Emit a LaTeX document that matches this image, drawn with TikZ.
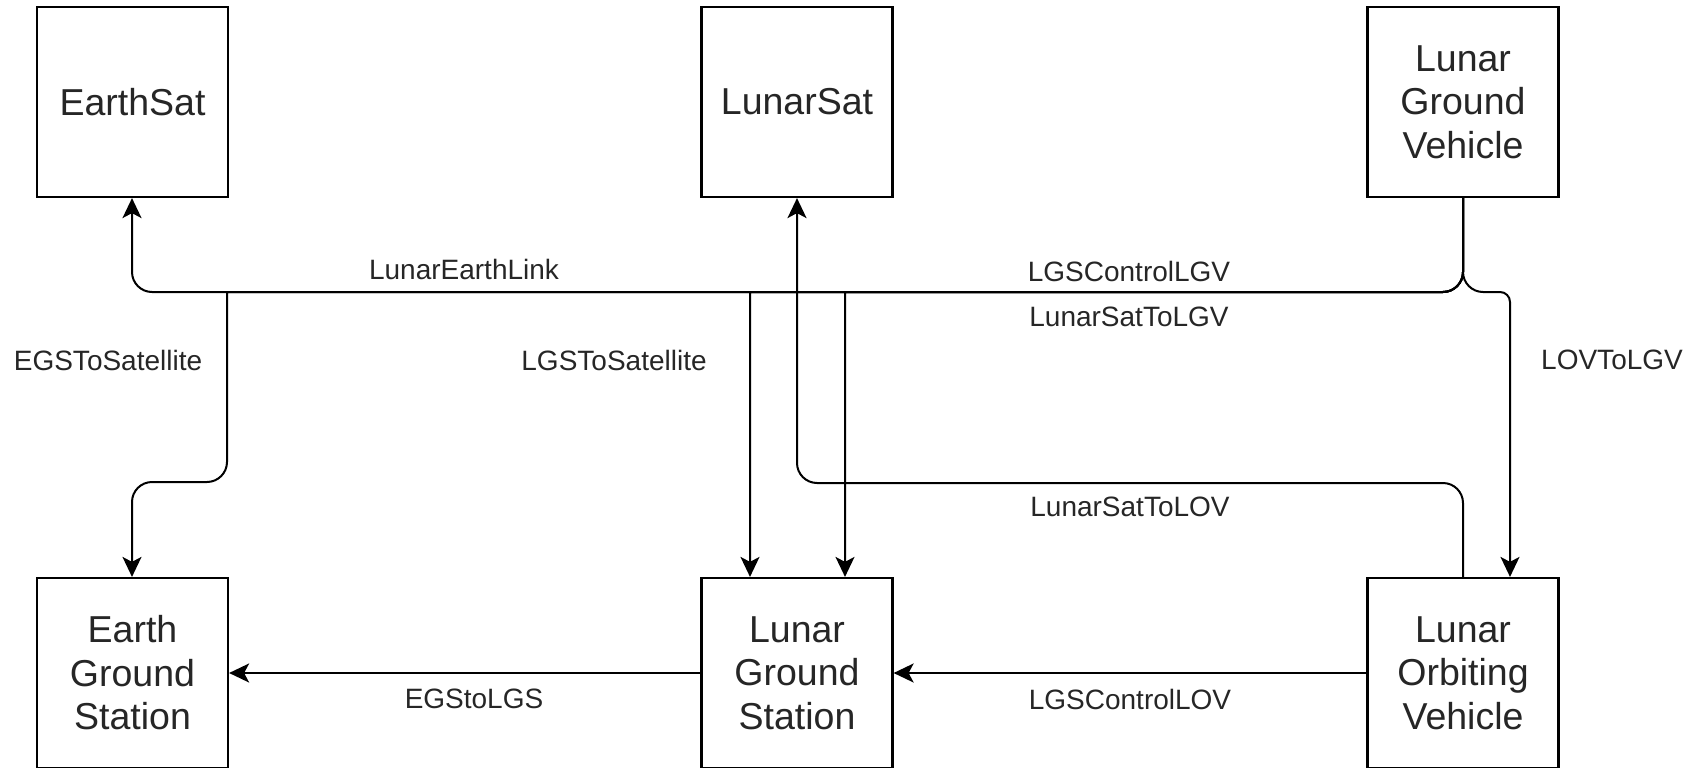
\documentclass[tikz,border=0pt]{standalone}
\usepackage{fontspec}
\setmainfont{Liberation Sans}
\usetikzlibrary{arrows.meta}

\tikzset{
  block/.style={draw=black, line width=2.2pt, fill=white, minimum width=191pt,
    minimum height=190pt, inner sep=0pt, align=center, text=black!85,
    font=\fontsize{37.5}{43.5}\selectfont},
  conn/.style={draw=black, line width=2pt, line join=round,
    -{Stealth[length=20pt,width=19pt,inset=5pt]}},
  tag/.style={inner sep=0pt, font=\fontsize{28}{33}\selectfont, text=black!85}
}

\begin{document}
\begin{tikzpicture}[x=1pt, y=-1pt]
  \useasboundingbox (0,0) rectangle (1689,768);

  % upper row
  \node[block] (es)  at (132.5,102) {EarthSat};
  \node[block] (ls)  at (797,102)   {LunarSat};
  \node[block] (lgv) at (1463,102)  {Lunar\\Ground\\Vehicle};
  % lower row
  \node[block] (egs) at (132.5,673) {Earth\\Ground\\Station};
  \node[block] (lgs) at (797,673)   {Lunar\\Ground\\Station};
  \node[block] (lov) at (1463,673)  {Lunar\\Orbiting\\Vehicle};

  % links leaving the ground vehicle to the left along the bus at y=292
  \draw[conn] (lgv.south) -- (1463,272) .. controls (1463,283) and (1454,292) .. (1443,292)
     -- (152,292) .. controls (141,292) and (132,283) .. (132,272) -- (es.south -| 132,0);
  \draw[conn] (lgv.south) -- (1463,272) .. controls (1463,283) and (1454,292) .. (1443,292)
     -- (227,292) -- (227,462) .. controls (227,473) and (218,482) .. (207,482)
     -- (152,482) .. controls (141,482) and (132,491) .. (132,502) -- (egs.north -| 132,0);
  \draw[conn] (lgv.south) -- (1463,272) .. controls (1463,283) and (1454,292) .. (1443,292)
     -- (750,292) -- (lgs.north -| 750,0);
  \draw[conn] (lgv.south) -- (1463,272) .. controls (1463,283) and (1454,292) .. (1443,292)
     -- (845,292) -- (lgs.north -| 845,0);
  % ground vehicle to orbiting vehicle, branching right
  \draw[conn] (lgv.south) -- (1463,272) .. controls (1463,283) and (1472,292) .. (1483,292)
     -- (1500,292) .. controls (1505.5,292) and (1510,296.5) .. (1510,302) -- (lov.north -| 1510,0);
  % orbiting vehicle up to the lunar satellite
  \draw[conn] (lov.north) -- (1463,503) .. controls (1463,492) and (1454,483) .. (1443,483)
     -- (817,483) .. controls (806,483) and (797,474) .. (797,463) -- (ls.south);
  % horizontal links in the lower row
  \draw[conn] (lgs.west) -- (egs.east);
  \draw[conn] (lov.west) -- (lgs.east);

  % link names
  \node[tag] (t1) at (464,269) {LunarEarthLink};
  \node[tag] (t2) at (1129,271) {LGSControlLGV};
  \node[tag] (t3) at (1129,317) {LunarSatToLGV};
  \node[tag] (t4) at (108,360) {EGSToSatellite};
  \node[tag] (t5) at (614,360) {LGSToSatellite};
  \node[tag] (t6) at (1612,360) {LOVToLGV};
  \node[tag] (t7) at (1130,507) {LunarSatToLOV};
  \node[tag] (t8) at (474,699) {EGStoLGS};
  \node[tag] (t9) at (1130,699) {LGSControlLOV};
\end{tikzpicture}
\end{document}
